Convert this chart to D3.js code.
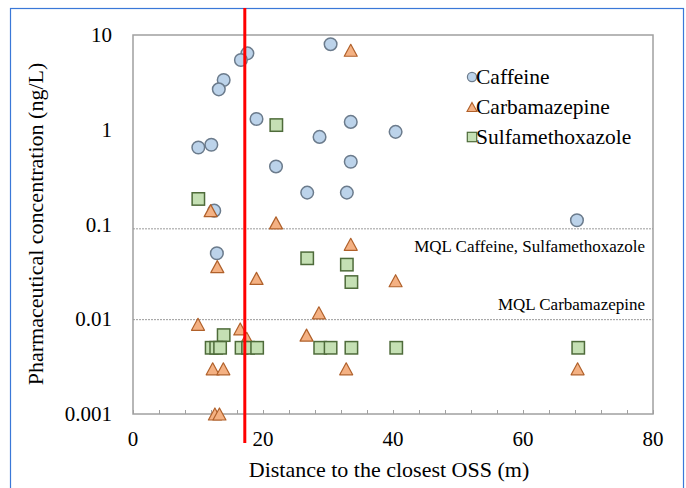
<!DOCTYPE html>
<html>
<head>
<meta charset="utf-8">
<script src="https://cdn.jsdelivr.net/npm/d3@7"></script>
<style>
  html, body { margin: 0; padding: 0; background: #fff; }
  svg text { font-family: "Liberation Serif", "Times New Roman", serif; fill: #000; }
</style>
</head>
<body>
<svg id="chart" width="686" height="488"></svg>
<script>
// distance to closest OSS (m) and concentration (ng/L)
var caffeineX = [30.4, 17.6, 16.6, 13.95, 13.2, 19.0, 33.5, 40.4, 28.7, 10.05, 12.05, 22.0, 33.5, 26.8, 32.9, 12.5, 68.3, 12.9];
var caffeineY = [8.0, 6.4, 5.45, 3.35, 2.67, 1.30, 1.21, 0.95, 0.84, 0.65, 0.695, 0.41, 0.46, 0.217, 0.217, 0.14, 0.111, 0.0497];

var carbamazepineX = [33.5, 11.95, 22.0, 33.5, 12.97, 19.0, 40.4, 28.6, 10.0, 16.5, 17.5, 26.7, 12.26, 13.9, 32.8, 68.4, 12.6, 13.3];
var carbamazepineY = [6.9, 0.14, 0.104, 0.0618, 0.0359, 0.027, 0.0255, 0.0117, 0.00885, 0.0079, 0.0063, 0.0068, 0.003, 0.003, 0.003, 0.003, 0.001, 0.001];

var sulfaX = [22.05, 10.05, 26.8, 32.9, 33.6, 13.95, 12.1, 12.8, 13.4, 16.7, 17.7, 19.1, 28.8, 30.4, 33.6, 40.5, 68.5];
var sulfaY = [1.12, 0.186, 0.044, 0.0377, 0.0247, 0.0068, 0.005, 0.005, 0.005, 0.005, 0.005, 0.005, 0.005, 0.005, 0.005, 0.005, 0.005];

var yTicks = [10, 1, 0.1, 0.01, 0.001];
var yTickLabels = ["10", "1", "0.1", "0.01", "0.001"];
var xTicks = [0, 20, 40, 60, 80];

var mqlValues = [0.09, 0.0099];
var mqlLabels = ["MQL Caffeine, Sulfamethoxazole", "MQL Carbamazepine"];

var ossDistance = 17.2; // red marker line

var svg = d3.select("#chart");

var x = d3.scaleLinear().domain([0, 80]).range([133, 653]);
var y = d3.scaleLog().domain([0.001, 10]).range([414, 35]);

// outer blue frame
svg.append("rect")
    .attr("x", 10.5).attr("y", 8.5)
    .attr("width", 673).attr("height", 490)
    .attr("fill", "none")
    .attr("stroke", "#3a78d8")
    .attr("stroke-width", 1.2);

// plot frame
svg.append("rect")
    .attr("x", x(0)).attr("y", y(10))
    .attr("width", x(80) - x(0)).attr("height", y(0.001) - y(10))
    .attr("fill", "none")
    .attr("stroke", "#a0a0a0")
    .attr("stroke-width", 1.5);

// MQL lines
mqlValues.forEach(function(v, i) {
    svg.append("line")
        .attr("x1", x(0)).attr("x2", x(80))
        .attr("y1", y(v)).attr("y2", y(v))
        .attr("stroke", "#9a9a9a")
        .attr("stroke-width", 1)
        .attr("stroke-dasharray", "2,1");
    svg.append("text")
        .attr("x", 645)
        .attr("y", y(v) + (i === 0 ? 23 : -9.5))
        .attr("text-anchor", "end")
        .style("font-size", "17px")
        .text(mqlLabels[i]);
});

// x axis: minor ticks inside
var xAxis = d3.axisBottom(x)
    .tickValues(d3.range(0, 81, 4))
    .tickSize(-4)
    .tickFormat("");
var gx = svg.append("g")
    .attr("transform", "translate(0," + y(0.001) + ")")
    .call(xAxis);
gx.select(".domain").remove();
gx.selectAll("line").attr("stroke", "#a0a0a0");

svg.selectAll(".xlab")
    .data(xTicks)
    .enter().append("text")
    .attr("x", function(d) { return x(d); })
    .attr("y", 446)
    .attr("text-anchor", "middle")
    .style("font-size", "21px")
    .text(function(d) { return d; });

// y axis labels
var yAxis = d3.axisLeft(y)
    .tickValues(yTicks)
    .tickSize(0)
    .tickPadding(21)
    .tickFormat(function(d, i) { return yTickLabels[i]; });
var gy = svg.append("g")
    .attr("transform", "translate(" + x(0) + ",0)")
    .call(yAxis)
    .attr("font-family", "Liberation Serif, serif")
    .attr("font-size", 21);
gy.select(".domain").remove();
gy.selectAll("text")
    .style("font-size", "21px")
    .attr("fill", "#000");

// axis titles
svg.append("text")
    .attr("x", 389).attr("y", 477)
    .attr("text-anchor", "middle")
    .style("font-size", "22px")
    .text("Distance to the closest OSS (m)");

svg.append("text")
    .attr("transform", "translate(43,224) rotate(-90)")
    .attr("text-anchor", "middle")
    .style("font-size", "22px")
    .text("Pharmaceutical concentration (ng/L)");

function triangle(w, h) {
    return "M0," + (-h / 2) + "L" + (w / 2) + "," + (h / 2) + "L" + (-w / 2) + "," + (h / 2) + "Z";
}

var circleStyle = { fill: "#bcd3ea", stroke: "#6b7b8c" };
var triStyle = { fill: "#f4b183", stroke: "#b0602a" };
var sqStyle = { fill: "#c5e0b4", stroke: "#4e6b3a" };

// caffeine
svg.append("g").selectAll("circle")
    .data(d3.range(caffeineX.length))
    .enter().append("circle")
    .attr("cx", function(i) { return x(caffeineX[i]); })
    .attr("cy", function(i) { return y(caffeineY[i]); })
    .attr("r", 6.3)
    .attr("fill", circleStyle.fill)
    .attr("stroke", circleStyle.stroke)
    .attr("stroke-width", 1.5);

// carbamazepine
svg.append("g").selectAll("path")
    .data(d3.range(carbamazepineX.length))
    .enter().append("path")
    .attr("transform", function(i) { return "translate(" + x(carbamazepineX[i]) + "," + y(carbamazepineY[i]) + ")"; })
    .attr("d", triangle(13, 12))
    .attr("fill", triStyle.fill)
    .attr("stroke", triStyle.stroke)
    .attr("stroke-width", 1.2)
    .attr("stroke-linejoin", "round");

// sulfamethoxazole
svg.append("g").selectAll("rect")
    .data(d3.range(sulfaX.length))
    .enter().append("rect")
    .attr("x", function(i) { return x(sulfaX[i]) - 6.2; })
    .attr("y", function(i) { return y(sulfaY[i]) - 6.2; })
    .attr("width", 12.4).attr("height", 12.4)
    .attr("fill", sqStyle.fill)
    .attr("stroke", sqStyle.stroke)
    .attr("stroke-width", 1.5);

// legend
var legendNames = ["Caffeine", "Carbamazepine", "Sulfamethoxazole"];
var legend = svg.append("g").attr("transform", "translate(472,77)");
legendNames.forEach(function(name, i) {
    var g = legend.append("g").attr("transform", "translate(0," + (i * 30) + ")");
    if (i === 0) {
        g.append("circle").attr("r", 4.6)
            .attr("fill", circleStyle.fill).attr("stroke", circleStyle.stroke).attr("stroke-width", 1.2);
    } else if (i === 1) {
        g.append("path").attr("d", triangle(10, 9))
            .attr("fill", triStyle.fill).attr("stroke", triStyle.stroke).attr("stroke-width", 1.1);
    } else {
        g.append("rect").attr("x", -4.7).attr("y", -4.7).attr("width", 9.4).attr("height", 9.4)
            .attr("fill", sqStyle.fill).attr("stroke", sqStyle.stroke).attr("stroke-width", 1.2);
    }
    g.append("text")
        .attr("x", 4)
        .attr("y", 6.5)
        .style("font-size", "21.5px")
        .text(name);
});

// red line at the OSS distance
svg.append("line")
    .attr("x1", x(ossDistance)).attr("x2", x(ossDistance))
    .attr("y1", 8).attr("y2", 443)
    .attr("stroke", "#ff0000")
    .attr("stroke-width", 3);
</script>
</body>
</html>
